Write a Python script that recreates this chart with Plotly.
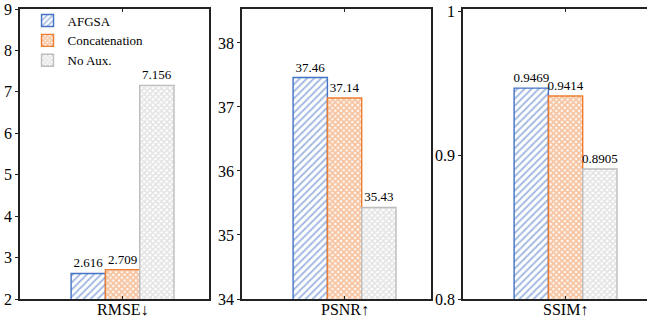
import plotly.graph_objects as go

methods = ["AFGSA", "Concatenation", "No Aux."]
metrics = ["RMSE↓", "PSNR↑", "SSIM↑"]
rmse = [2.616, 2.709, 7.156]
psnr = [37.46, 37.14, 35.43]
ssim = [0.9469, 0.9414, 0.8905]
values = [rmse, psnr, ssim]
label_fmt = ["%{y:.3f}", "%{y:.2f}", "%{y:.4f}"]
y_ranges = [[2, 9], [34, 38.53], [0.8, 1.002]]
y_ticks = [[2, 3, 4, 5, 6, 7, 8, 9], [34, 35, 36, 37, 38], [0.8, 0.9, 1.0]]
y_ticktext = [None, None, ["0.8", "0.9", "1"]]

edge_colors = ["#4472C4", "#ED7D31", "#BDBDBD"]
patterns = [
    dict(shape="/", fgcolor="#4472C4", bgcolor="white", size=5, solidity=0.38),
    dict(shape="x", fgcolor="#EE8A45", bgcolor="white", size=4, solidity=0.72),
    dict(shape="x", fgcolor="#C8C8C8", bgcolor="white", size=4, solidity=0.62),
]

W, H = 647, 324
ml, mr, mt, mb = 20, 0, 9, 25
pw = W - ml - mr
domains = [[0, 189 / pw], [222 / pw, 411 / pw], [443 / pw, 1.0]]
unit = 34.3
serif = "Liberation Serif, Times New Roman, serif"

fig = go.Figure()
for p in range(3):
    ax = "" if p == 0 else str(p + 1)
    for i, m in enumerate(methods):
        fig.add_trace(go.Bar(
            x=[i], y=[values[p][i]], width=1.0, name=m,
            showlegend=(p == 0),
            marker=dict(color="white", pattern=patterns[i],
                        line=dict(color=edge_colors[i], width=1.4)),
            text=[values[p][i]], texttemplate=label_fmt[p],
            textposition="outside", cliponaxis=False, constraintext="none",
            textfont=dict(family=serif, size=13, color="black"),
            xaxis="x" + ax, yaxis="y" + ax,
        ))
    dom = domains[p]
    dw = (dom[1] - dom[0]) * pw
    x0 = -1.99
    xr = [x0, x0 + dw / unit]
    xa = dict(domain=dom, range=xr, tickvals=[1], ticktext=[""],
              ticks="inside", ticklen=3, tickcolor="#222", showline=True,
              linecolor="#222", linewidth=1.5, mirror="ticks", showgrid=False,
              zeroline=False, anchor="y" + ax, showticklabels=False)
    ya = dict(range=y_ranges[p], tickvals=y_ticks[p], ticks="outside", ticklen=3,
              tickcolor="#222", showline=True, linecolor="#222", linewidth=1.5,
              mirror=(p < 2), showgrid=False, zeroline=False, anchor="x" + ax,
              tickfont=dict(family=serif, size=16, color="black"))
    if y_ticktext[p]:
        ya["ticktext"] = y_ticktext[p]
    fig.update_layout(**{"xaxis" + ax: xa, "yaxis" + ax: ya})
    fig.add_annotation(x=1, xref="x" + ax, y=0, yref="y" + ax + " domain",
                       text=metrics[p], showarrow=False, yanchor="top", yshift=0,
                       font=dict(family=serif, size=16, color="black"))

fig.update_layout(
    width=W, height=H, margin=dict(l=ml, r=mr, t=mt, b=mb),
    plot_bgcolor="white", paper_bgcolor="white", barmode="overlay",
    legend=dict(x=0.012, y=1.012, xanchor="left", yanchor="top",
                bgcolor="rgba(0,0,0,0)", font=dict(family=serif, size=13, color="black"),
                tracegroupgap=0, itemwidth=30),
    font=dict(family=serif),
)
fig.write_html("out.html", config={"displayModeBar": False},
               post_script="document.body.style.margin='0';document.body.style.overflow='hidden';")
